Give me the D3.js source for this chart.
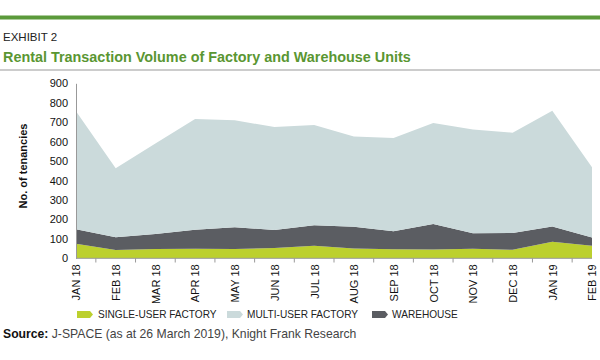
<!DOCTYPE html>
<html><head><meta charset="utf-8">
<script src="https://cdn.jsdelivr.net/npm/d3@7"></script>
<style>body{margin:0;background:#fff;}svg{display:block;font-family:Arial,"Liberation Sans",sans-serif;}</style>
</head><body>
<svg id="c" width="600" height="360"></svg>
<script>
const categories = ["JAN 18","FEB 18","MAR 18","APR 18","MAY 18","JUN 18","JUL 18","AUG 18","SEP 18","OCT 18","NOV 18","DEC 18","JAN 19","FEB 19"];
const singleUser = [75,43,48,49,48,53,64,51,46,45,49,44,85,65];
const warehouse = [75,65,77,98,112,92,106,111,93,131,80,86,79,42];
const multiUser = [606,355,465,570,550,530,515,464,480,520,533,516,595,361];
const yTicks = [0,100,200,300,400,500,600,700,800,900];
const seriesNames = {single:"SINGLE-USER FACTORY", multi:"MULTI-USER FACTORY", warehouse:"WAREHOUSE"};
const colors = {single:"#bcd02e", multi:"#cbdadb", warehouse:"#5b5d62"};

const svg = d3.select("#c");
// header
svg.append("rect").attr("x",0).attr("y",15.5).attr("width",600).attr("height",4).attr("fill","#5b9a3b");
svg.append("text").attr("x",3).attr("y",41).attr("font-size",11.5).attr("fill","#222").text("EXHIBIT 2");
svg.append("text").attr("x",3).attr("y",62).attr("font-size",14.4).attr("font-weight","bold").attr("fill","#5a9632").text("Rental Transaction Volume of Factory and Warehouse Units");
svg.append("rect").attr("x",0).attr("y",69.5).attr("width",600).attr("height",1).attr("fill","#9a9a9a");

const data = categories.map((c,i)=>({cat:c, single:singleUser[i], warehouse:warehouse[i], multi:multiUser[i]}));
const x = d3.scalePoint().domain(categories).range([76,592]);
const y = d3.scaleLinear().domain([0,900]).range([258.3,83.3]);
const stack = d3.stack().keys(["single","warehouse","multi"]);
const layers = stack(data);
const area = d3.area().x(d=>x(d.data.cat)).y0(d=>y(d[0])).y1(d=>y(d[1]));
svg.append("g").selectAll("path").data(layers).join("path")
  .attr("d",area).attr("fill",d=>colors[d.key]);

// y axis
const yAxis = svg.append("g").attr("transform","translate(76,0)")
  .call(d3.axisLeft(y).tickValues(yTicks).tickSize(0).tickPadding(8));
yAxis.select(".domain").attr("stroke","#999");
yAxis.selectAll("text").attr("font-size",11).attr("fill","#111").attr("font-family","Arial,'Liberation Sans',sans-serif");

// x axis
const xAxis = svg.append("g").attr("transform","translate(0,258.3)")
  .call(d3.axisBottom(x).tickSize(0).tickPadding(6));
xAxis.select(".domain").attr("stroke","#999").attr("d","M76,0H592");
xAxis.selectAll("text").attr("font-size",11).attr("fill","#111")
  .attr("font-family","Arial,'Liberation Sans',sans-serif")
  .attr("transform","rotate(-90)").attr("text-anchor","end").attr("dy","0.35em").attr("x",-6).attr("y",0);
const mids = categories.slice(1).map((c,i)=>(x(categories[i])+x(c))/2);
svg.append("g").selectAll("line").data(mids).join("line")
  .attr("x1",d=>d).attr("x2",d=>d).attr("y1",258.3).attr("y2",262.5).attr("stroke","#999");

// y title
svg.append("text").attr("transform","translate(27,166) rotate(-90)").attr("text-anchor","middle")
  .attr("font-size",11).attr("font-weight","bold").attr("fill","#111").text("No. of tenancies");

// legend
const legendItems = [["single",77,98],["multi",227,247],["warehouse",372,392]];
const lg = svg.append("g");
legendItems.forEach(([k,sx,tx])=>{
  lg.append("path").attr("d",`M${sx},311H${sx+13}L${sx+16},314.5L${sx+13},318H${sx}Z`).attr("fill",colors[k]);
  lg.append("text").attr("x",tx).attr("y",318.3).attr("font-size",10.1).attr("fill","#222").text(seriesNames[k]);
});

// source
const src = svg.append("text").attr("x",3).attr("y",338).attr("font-size",12.2).attr("fill","#444");
src.append("tspan").attr("font-weight","bold").attr("fill","#111").text("Source:");
src.append("tspan").text(" J-SPACE (as at 26 March 2019), Knight Frank Research");
</script>
</body></html>
